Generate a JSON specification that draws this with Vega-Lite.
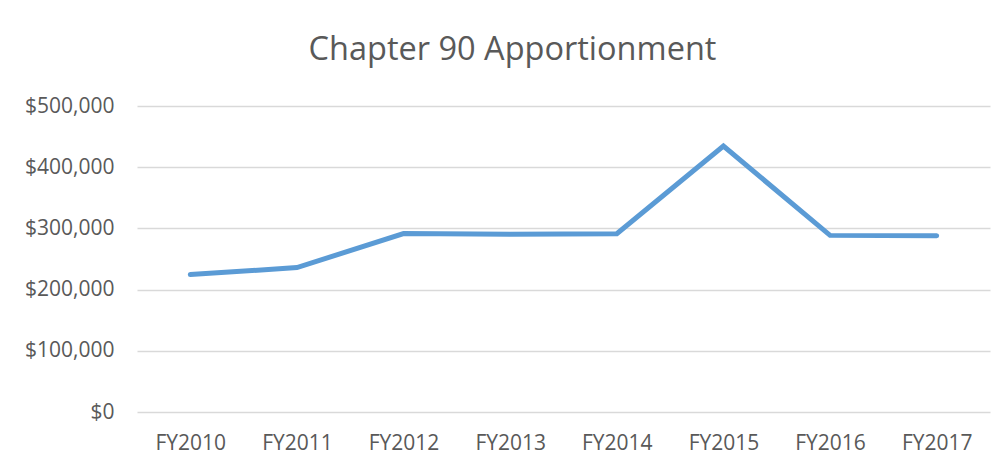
{
  "$schema": "https://vega.github.io/schema/vega-lite/v6.json",
  "width": 853,
  "height": 306,
  "autosize": {"type": "none"},
  "padding": {"left": 137, "top": 106, "right": 16, "bottom": 58},
  "background": "white",
  "title": {
    "text": "Chapter 90 Apportionment",
    "anchor": "middle",
    "frame": "group",
    "dx": -51,
    "offset": 29,
    "font": "Open Sans",
    "fontSize": 32.5,
    "fontWeight": "normal",
    "color": "#595959"
  },
  "data": {
    "values": [
      {"year": "FY2010", "amount": 224500},
      {"year": "FY2011", "amount": 236000},
      {"year": "FY2012", "amount": 291500},
      {"year": "FY2013", "amount": 290300},
      {"year": "FY2014", "amount": 291300},
      {"year": "FY2015", "amount": 434500},
      {"year": "FY2016", "amount": 288600},
      {"year": "FY2017", "amount": 288100}
    ]
  },
  "mark": {"type": "line", "color": "#5b9bd5", "strokeWidth": 5, "strokeCap": "round"},
  "encoding": {
    "x": {
      "field": "year",
      "type": "nominal",
      "sort": null,
      "title": null,
      "axis": {
        "labelAngle": 0,
        "domain": false,
        "ticks": false,
        "labelPadding": 20,
        "labelFont": "Open Sans",
        "labelFontSize": 21,
        "labelColor": "#595959"
      }
    },
    "y": {
      "field": "amount",
      "type": "quantitative",
      "title": null,
      "scale": {"domain": [0, 500000], "nice": false},
      "axis": {
        "values": [0, 100000, 200000, 300000, 400000, 500000],
        "format": "$,.0f",
        "domain": false,
        "ticks": false,
        "labelPadding": 23,
        "labelFont": "Open Sans",
        "labelFontSize": 21,
        "labelColor": "#595959",
        "gridColor": "#d9d9d9",
        "gridWidth": 1.5
      }
    }
  },
  "config": {"view": {"stroke": null}}
}
